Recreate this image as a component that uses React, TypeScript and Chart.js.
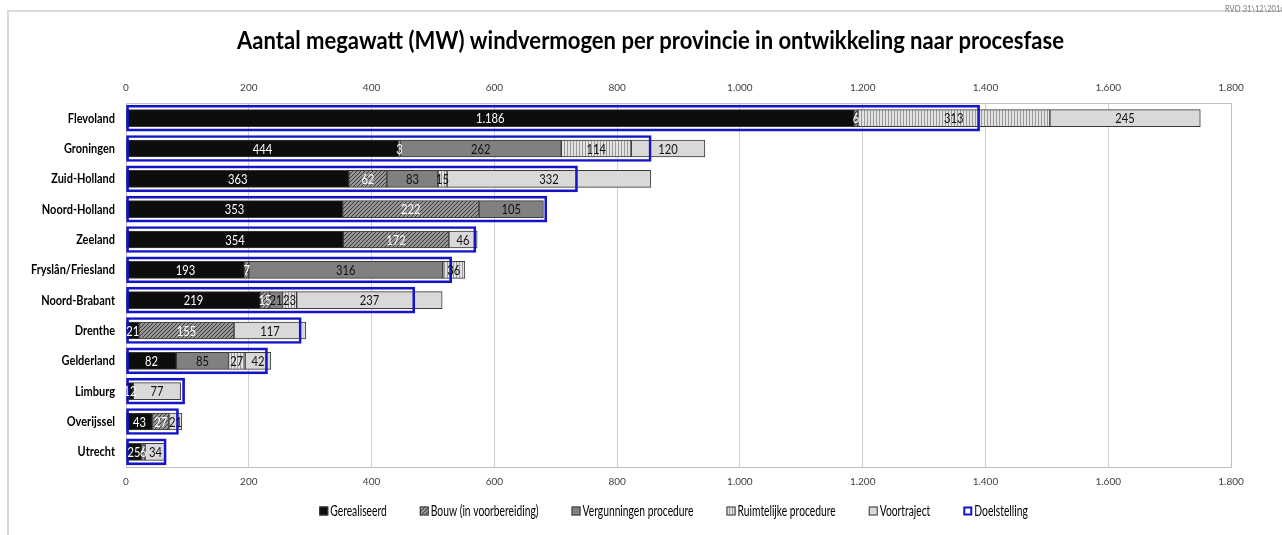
import React, { useEffect, useRef } from 'react';
import { Chart, registerables } from 'chart.js';

Chart.register(...registerables);

const TITLE = 'Aantal megawatt (MW) windvermogen per provincie in ontwikkeling naar procesfase';
const SOURCE = 'RVO 31\\12\\2016';

const categories = [
  'Flevoland',
  'Groningen',
  'Zuid-Holland',
  'Noord-Holland',
  'Zeeland',
  'Fryslân/Friesland',
  'Noord-Brabant',
  'Drenthe',
  'Gelderland',
  'Limburg',
  'Overijssel',
  'Utrecht',
];

const seriesNames = [
  'Gerealiseerd',
  'Bouw (in voorbereiding)',
  'Vergunningen procedure',
  'Ruimtelijke procedure',
  'Voortraject',
  'Doelstelling',
];

const gerealiseerd = [1186, 444, 363, 353, 354, 193, 219, 21, 82, 12, 43, 25];
const bouw = [6, 3, 62, 222, 172, 7, 15, 155, 0, 0, 27, 6];
const vergunningen = [0, 262, 83, 105, 0, 316, 21, 0, 85, 0, 0, 0];
const ruimtelijke = [313, 114, 15, 0, 0, 36, 23, 0, 27, 0, 0, 0];
const voortraject = [245, 120, 332, 0, 46, 0, 237, 117, 42, 77, 21, 34];
const doelstelling = [1390.5, 855.5, 735.5, 685.5, 570, 530.5, 470.5, 285.5, 230.5, 95.5, 85.5, 65.5];

const axisMin = 0;
const axisMax = 1800;
const axisStep = 200;

const FONT = 'Lato, "Open Sans", "Liberation Sans", sans-serif';

function fmt(v: number): string {
  return String(v).replace(/\B(?=(\d{3})+(?!\d))/g, '.');
}

function measure(ctx: CanvasRenderingContext2D, text: string, font: string): number {
  ctx.save();
  ctx.font = font;
  const w = ctx.measureText(text).width;
  ctx.restore();
  return w;
}

function drawScaled(
  ctx: CanvasRenderingContext2D,
  text: string,
  x: number,
  y: number,
  font: string,
  color: string,
  align: 'left' | 'center' | 'right',
  sx: number
) {
  ctx.save();
  ctx.font = font;
  const w = ctx.measureText(text).width * sx;
  const left = align === 'center' ? x - w / 2 : align === 'right' ? x - w : x;
  ctx.translate(left, y);
  ctx.scale(sx, 1);
  ctx.textAlign = 'left';
  ctx.textBaseline = 'middle';
  ctx.fillStyle = color;
  ctx.fillText(text, 0, 0);
  ctx.restore();
}

function makeHatch(): CanvasPattern | string {
  const c = document.createElement('canvas');
  c.width = 4;
  c.height = 4;
  const g = c.getContext('2d');
  if (!g) return '#707070';
  g.fillStyle = '#959595';
  g.fillRect(0, 0, 4, 4);
  g.fillStyle = '#3c3c3c';
  for (let i = 0; i < 4; i++) g.fillRect(3 - i, i, 1, 1);
  return g.createPattern(c, 'repeat') || '#707070';
}

function makeVertical(): CanvasPattern | string {
  const c = document.createElement('canvas');
  c.width = 3;
  c.height = 2;
  const g = c.getContext('2d');
  if (!g) return '#c8c8c8';
  g.fillStyle = '#e2e2e2';
  g.fillRect(0, 0, 3, 2);
  g.fillStyle = '#9a9a9a';
  g.fillRect(0, 0, 1, 2);
  return g.createPattern(c, 'repeat') || '#c8c8c8';
}

export default function App() {
  const ref = useRef<HTMLCanvasElement | null>(null);

  useEffect(() => {
    const canvas = ref.current;
    if (!canvas) return;

    const hatch = makeHatch();
    const vertical = makeVertical();
    const fills: (string | CanvasPattern)[] = ['#0d0d0d', hatch, '#808080', vertical, '#d9d9d9'];
    const textColors = ['#ffffff', '#ffffff', '#111111', '#111111', '#111111'];
    const values = [gerealiseerd, bouw, vergunningen, ruimtelijke, voortraject];
    const targetColor = '#1414c8';

    const datasets: any[] = values.map((arr, i) => ({
      label: seriesNames[i],
      data: arr.map((v) => (v === 0 ? null : v)),
      backgroundColor: fills[i],
      borderColor: '#3a3a3a',
      borderWidth: 1,
      borderSkipped: false,
      barThickness: 17,
      stack: 'main',
      xAxisID: 'x',
      yAxisID: 'y',
    }));
    datasets.push({
      label: seriesNames[5],
      data: doelstelling,
      backgroundColor: 'rgba(0,0,0,0)',
      borderColor: targetColor,
      borderWidth: 2,
      borderSkipped: false,
      barThickness: 26,
      maxBarThickness: 26,
      grouped: false,
      stack: 'target',
      order: -1,
      xAxisID: 'x',
      yAxisID: 'y',
    });

    const decor = {
      id: 'decor',
      beforeDraw(chart: any) {
        const ctx: CanvasRenderingContext2D = chart.ctx;
        ctx.save();
        ctx.fillStyle = '#ffffff';
        ctx.fillRect(0, 0, chart.width, chart.height);
        ctx.strokeStyle = '#d9d9d9';
        ctx.lineWidth = 2;
        ctx.beginPath();
        ctx.moveTo(8, chart.height + 5);
        ctx.lineTo(8, 11);
        ctx.lineTo(chart.width + 5, 11);
        ctx.stroke();
        ctx.restore();

        // title
        const tf = `bold 25px ${FONT}`;
        const tsx = 827 / measure(ctx, TITLE, tf);
        drawScaled(ctx, TITLE, 650.5, 41, tf, '#000000', 'center', tsx);
        drawScaled(ctx, SOURCE, 1225, 9, `10px ${FONT}`, '#808080', 'left', 0.76);

        // category labels
        const yScale = chart.scales.y;
        const cf = `bold 14px ${FONT}`;
        const csx = 84 / measure(ctx, 'Fryslân/Friesland', cf);
        categories.forEach((c, i) => {
          drawScaled(ctx, c, 115, yScale.getPixelForValue(i), cf, '#000000', 'right', csx);
        });

        // legend
        const lf = `15px ${FONT}`;
        const lsx = 111 / measure(ctx, 'Vergunningen procedure', lf);
        const box = 9;
        const gapText = 2;
        const gapItem = 33;
        const widths = seriesNames.map((n) => measure(ctx, n, lf) * lsx);
        const total = widths.reduce((a, w) => a + box + gapText + w, 0) + gapItem * (seriesNames.length - 1);
        let x = 673.5 - total / 2;
        const ly = 511;
        seriesNames.forEach((n, i) => {
          ctx.save();
          if (i < 5) {
            ctx.fillStyle = fills[i] as any;
            ctx.fillRect(x, ly - box / 2, box, box);
            ctx.strokeStyle = '#3a3a3a';
            ctx.lineWidth = 1;
            ctx.strokeRect(x + 0.5, ly - box / 2 + 0.5, box - 1, box - 1);
          } else {
            ctx.fillStyle = '#ffffff';
            ctx.fillRect(x, ly - box / 2, box, box);
            ctx.strokeStyle = targetColor;
            ctx.lineWidth = 2;
            ctx.strokeRect(x + 1, ly - box / 2 + 1, box - 2, box - 2);
          }
          ctx.restore();
          drawScaled(ctx, n, x + box + gapText, ly, lf, '#000000', 'left', lsx);
          x += box + gapText + widths[i] + gapItem;
        });
      },
      beforeDatasetsDraw(chart: any) {
        const ctx: CanvasRenderingContext2D = chart.ctx;
        const ca = chart.chartArea;
        ctx.save();
        ctx.strokeStyle = '#bfbfbf';
        ctx.lineWidth = 1;
        ctx.strokeRect(Math.round(ca.left) + 0.5, Math.round(ca.top) + 0.5, Math.round(ca.right - ca.left), Math.round(ca.bottom - ca.top));
        ctx.restore();
      },
      afterDatasetsDraw(chart: any) {
        const ctx: CanvasRenderingContext2D = chart.ctx;
        const df = `14px ${FONT}`;
        for (let d = 0; d < 5; d++) {
          const meta = chart.getDatasetMeta(d);
          meta.data.forEach((el: any, i: number) => {
            const v = values[d][i];
            if (!v) return;
            const cx = (el.x + el.base) / 2;
            drawScaled(ctx, fmt(v), cx, el.y + 0.5, df, textColors[d], 'center', 0.8);
          });
        }
      },
    };

    const tickOpts = {
      stepSize: axisStep,
      padding: 9,
      color: '#404040',
      font: { family: FONT, size: 10 },
      callback: (v: any) => fmt(Number(v)),
    };

    const chart = new Chart(canvas, {
      type: 'bar',
      data: { labels: categories, datasets },
      options: {
        indexAxis: 'y',
        responsive: false,
        animation: false,
        devicePixelRatio: 1,
        layout: { padding: { left: 126, right: 51, top: 73, bottom: 38 } },
        plugins: {
          legend: { display: false },
          title: { display: false },
          tooltip: { enabled: false },
        },
        scales: {
          x: {
            type: 'linear',
            position: 'bottom',
            stacked: true,
            min: axisMin,
            max: axisMax,
            ticks: tickOpts,
            grid: { color: '#d0d0d0', drawTicks: false },
            border: { display: false },
          },
          x2: {
            type: 'linear',
            position: 'top',
            min: axisMin,
            max: axisMax,
            ticks: tickOpts,
            grid: { display: false, drawTicks: false },
            border: { display: false },
          },
          y: {
            type: 'category',
            stacked: true,
            display: false,
          },
        },
      } as any,
      plugins: [decor],
    });

    return () => chart.destroy();
  }, []);

  return (
    <div
      style={{
        position: 'fixed',
        left: 0,
        top: 0,
        width: 1282,
        height: 535,
        background: '#ffffff',
        overflow: 'hidden',
      }}
    >
      <canvas ref={ref} width={1282} height={535} style={{ display: 'block', width: 1282, height: 535 }} />
    </div>
  );
}
